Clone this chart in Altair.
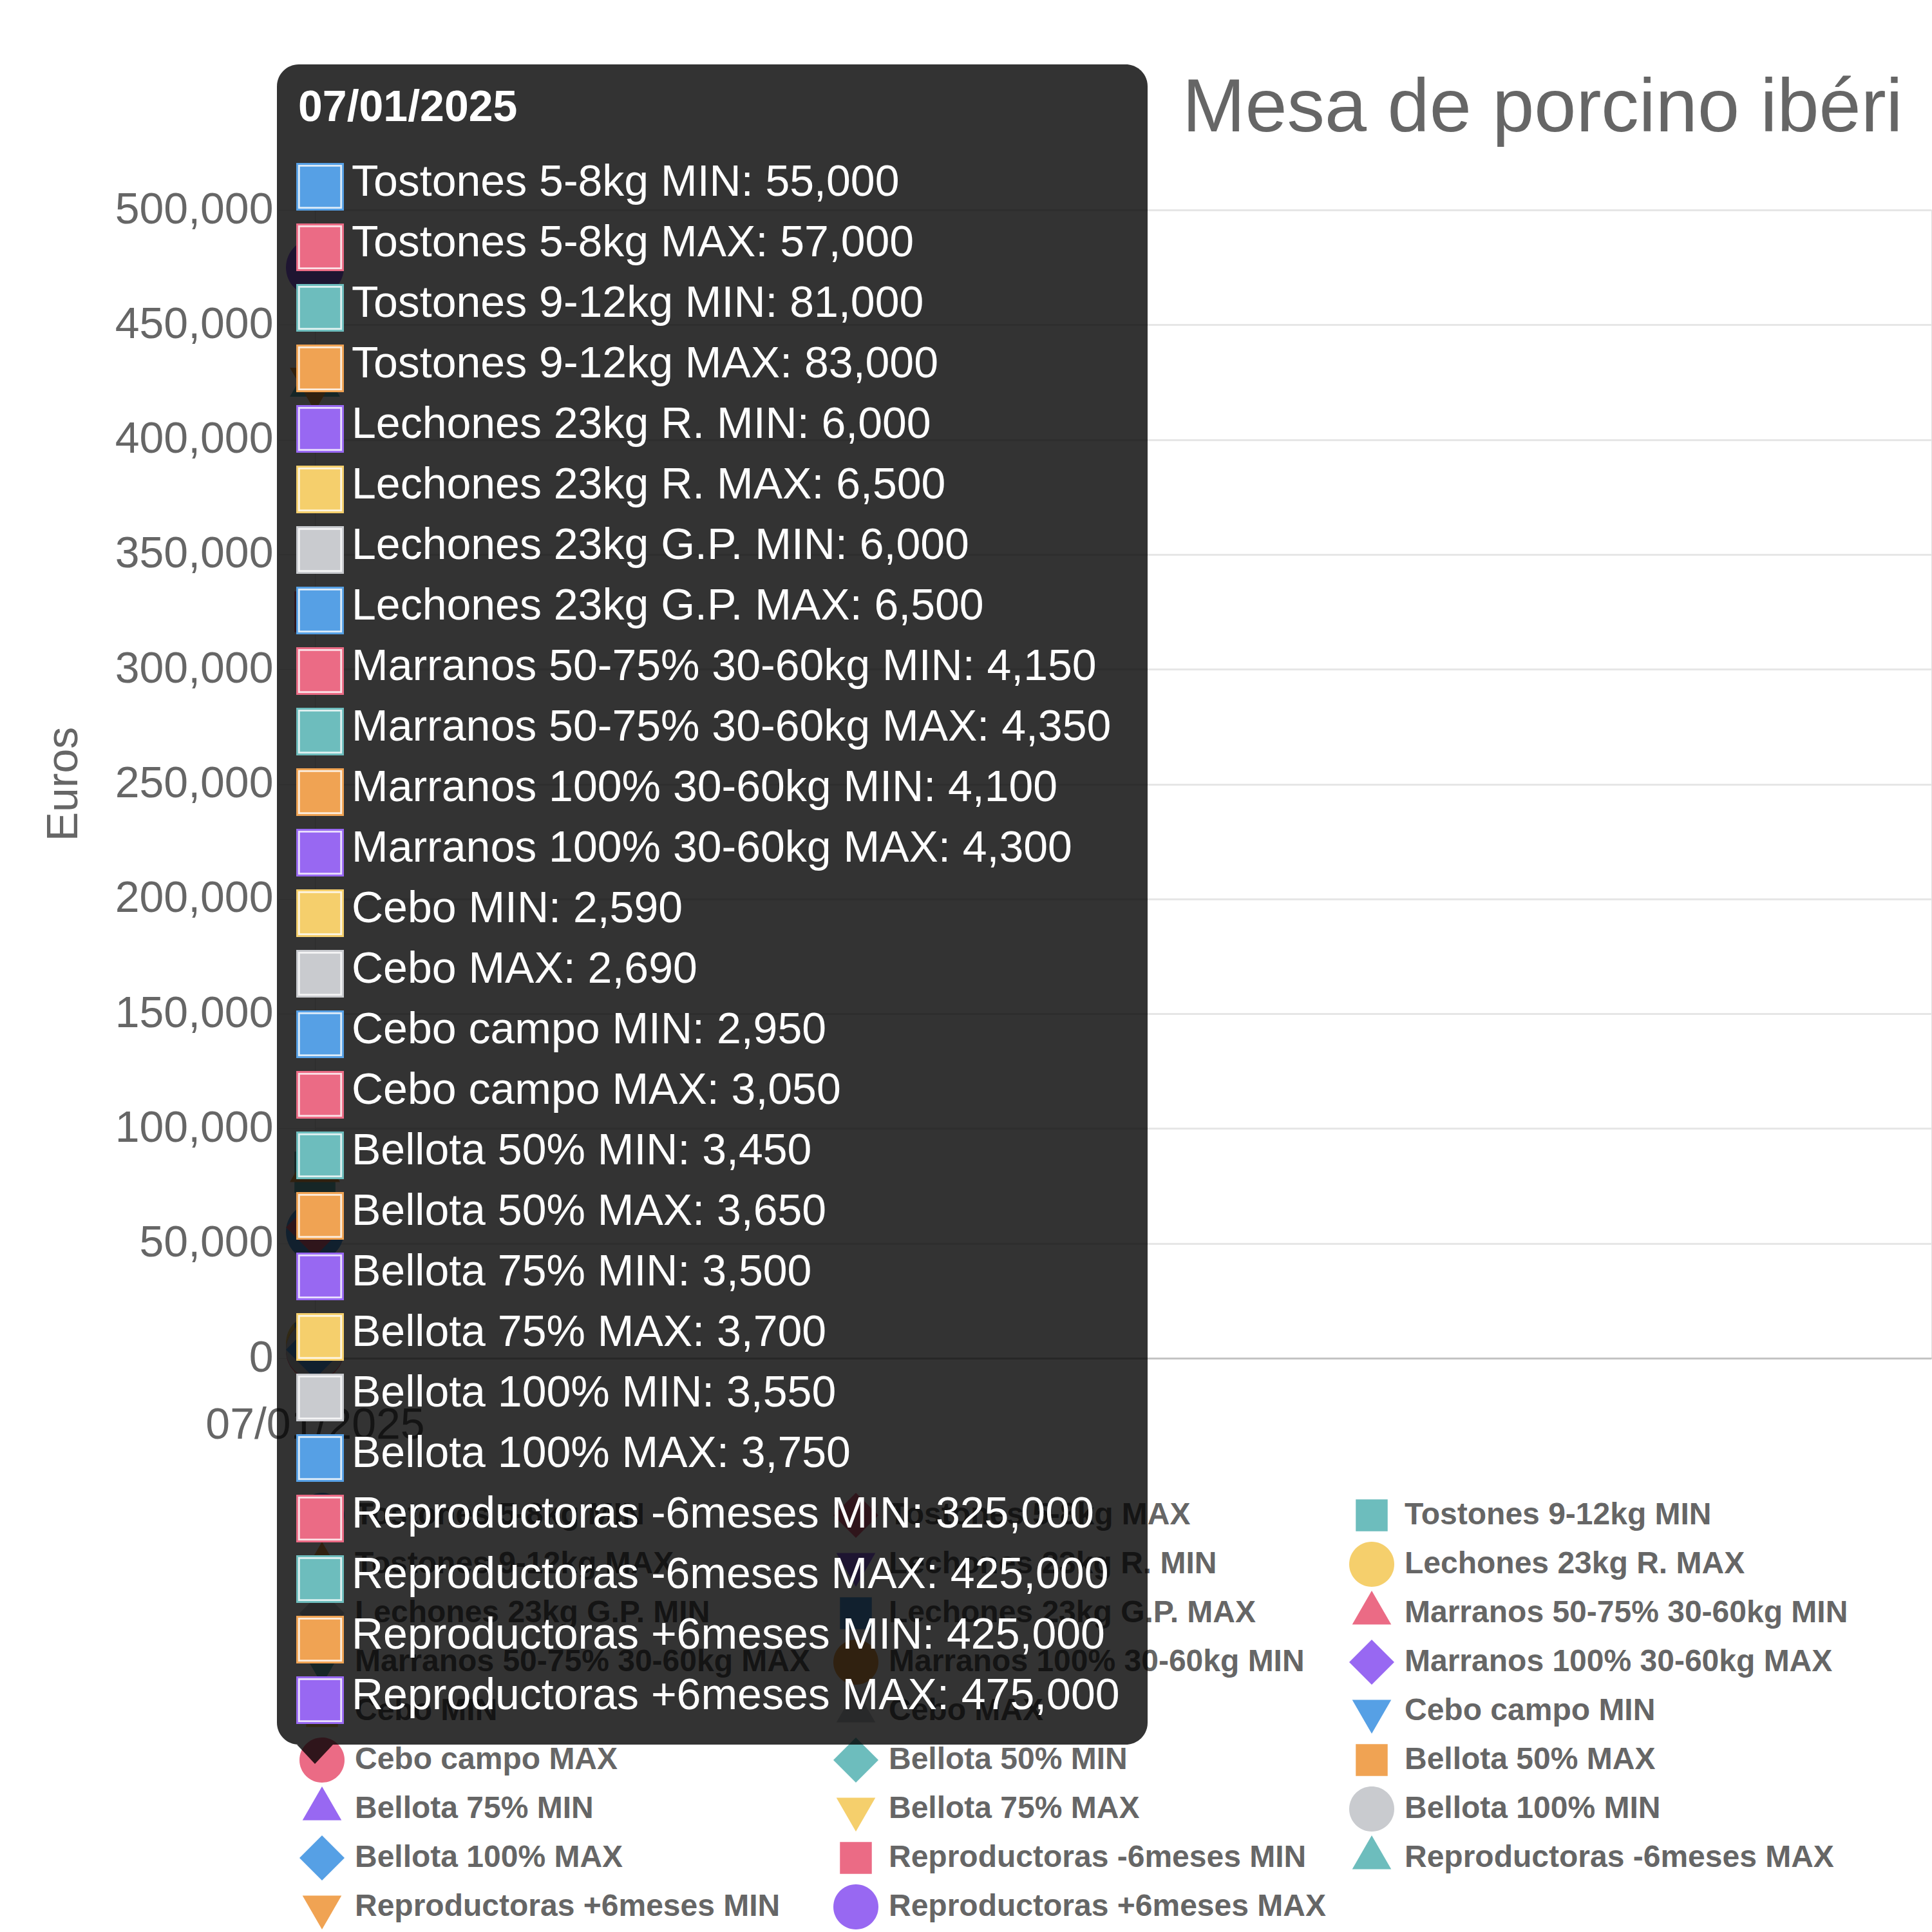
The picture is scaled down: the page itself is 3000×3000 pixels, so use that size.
import altair as alt
import pandas as pd

# ---------------- data ----------------
fechas = ["07/01/2025"]
series = [
    "Tostones 5-8kg MIN", "Tostones 5-8kg MAX",
    "Tostones 9-12kg MIN", "Tostones 9-12kg MAX",
    "Lechones 23kg R. MIN", "Lechones 23kg R. MAX",
    "Lechones 23kg G.P. MIN", "Lechones 23kg G.P. MAX",
    "Marranos 50-75% 30-60kg MIN", "Marranos 50-75% 30-60kg MAX",
    "Marranos 100% 30-60kg MIN", "Marranos 100% 30-60kg MAX",
    "Cebo MIN", "Cebo MAX",
    "Cebo campo MIN", "Cebo campo MAX",
    "Bellota 50% MIN", "Bellota 50% MAX",
    "Bellota 75% MIN", "Bellota 75% MAX",
    "Bellota 100% MIN", "Bellota 100% MAX",
    "Reproductoras -6meses MIN", "Reproductoras -6meses MAX",
    "Reproductoras +6meses MIN", "Reproductoras +6meses MAX",
]
valores = [55000, 57000, 81000, 83000, 6000, 6500, 6000, 6500,
           4150, 4350, 4100, 4300, 2590, 2690, 2950, 3050,
           3450, 3650, 3500, 3700, 3550, 3750,
           325000, 425000, 425000, 475000]
y_ticks = [0, 50000, 100000, 150000, 200000, 250000,
           300000, 350000, 400000, 450000, 500000]
titulo = "Mesa de porcino ibérico"
eje_y = "Euros"

# ---------------- styles ----------------
paleta = ["#56A0E5", "#EB6B85", "#6DBDBD", "#F0A353", "#9868F2", "#F5CF6C", "#C9CBCF"]
formas_base = [
    "M-1,0A1,1,0,1,1,1,0A1,1,0,1,1,-1,0Z",                       # circle
    "M-1,0L0,-1L1,0L0,1Z",                                        # rotated square
    "M-0.707,-0.707L0.707,-0.707L0.707,0.707L-0.707,0.707Z",      # square
    "M-0.866,0.5L0.866,0.5L0,-1Z",                                # triangle
    "M-0.866,-0.5L0.866,-0.5L0,1Z",                               # triangle down
]
colores = [paleta[i % len(paleta)] for i in range(len(series))]
formas = [formas_base[i % len(formas_base)] for i in range(len(series))]

FONT = "Liberation Sans"
GRAY = "#666666"

df = pd.DataFrame({"fecha": [fechas[0]] * len(series), "serie": series, "valor": valores})
una = pd.DataFrame({"fecha": fechas})
tit_df = pd.DataFrame({"titulo": [titulo]})

color_scale = alt.Scale(domain=series, range=colores)
shape_scale = alt.Scale(domain=series, range=formas)

x_enc = alt.X(
    "fecha:O",
    scale=alt.Scale(type="point", padding=0, align=0),
    axis=alt.Axis(title=None, labelAngle=0, labelFontSize=68, labelColor=GRAY,
                  labelFont=FONT, ticks=True, tickSize=57, tickColor="#e5e5e5",
                  labelPadding=13, domain=False, grid=False, labelLimit=600),
)

y_axis = alt.Axis(
    values=y_ticks, format=",d", title=eje_y,
    labelFontSize=68, labelColor=GRAY, labelFont=FONT, labelLimit=600,
    ticks=True, tickSize=57, tickColor="#e5e5e5", labelPadding=8,
    domain=False, grid=True, gridWidth=3,
    gridColor={"condition": {"test": "datum.value === 0", "value": "#c4c4c4"}, "value": "#e6e6e6"},
    titleFont=FONT, titleFontSize=68, titleFontWeight="normal", titleColor=GRAY,
    titleX=-370, titleY=891, titleBaseline="alphabetic", titleAlign="center",
)

base = alt.Chart(df)

puntos = base.mark_point(filled=True, opacity=1, size=8100, strokeWidth=0).encode(
    x=x_enc,
    y=alt.Y("valor:Q", scale=alt.Scale(domain=[0, 500000], nice=False), axis=y_axis),
    color=alt.Color("serie:N", scale=color_scale, legend=None),
    shape=alt.Shape("serie:N", scale=shape_scale, legend=None),
)

# tooltip overlay
caja_tt = alt.Chart(una).mark_rect(color="#000000", opacity=0.8, cornerRadius=34).encode(
    x=alt.value(-59), x2=alt.value(1293), y=alt.value(-226), y2=alt.value(2383)
)
caret = alt.Chart(una).mark_point(
    filled=True, color="#000000", opacity=0.8, shape="M-1,0L1,0L0,1.07Z",
    size=3136, strokeWidth=0
).encode(x=x_enc, y=alt.value(2383))

fecha_tt = alt.Chart(una).mark_text(
    align="left", baseline="middle", font=FONT, fontSize=68, fontWeight="bold", color="white"
).encode(x=alt.value(-26), y=alt.value(-158), text="fecha:N")

filas = base.transform_calculate(etiqueta="datum.serie + ': ' + format(datum.valor, ',')")

cuadros = base.mark_point(shape="square", filled=True, size=5476, opacity=1, strokeWidth=0).encode(
    x=alt.value(8),
    y=alt.Y("serie:N", scale=alt.Scale(type="point", domain=series, range=[-36, 2314], padding=0), axis=None),
    color=alt.Color("serie:N", scale=color_scale, legend=None),
)
cuadros_borde = base.mark_point(shape="square", filled=False, size=4277, color="white",
                                strokeWidth=2.8, opacity=0.8).encode(
    x=alt.value(8),
    y=alt.Y("serie:N", scale=alt.Scale(type="point", domain=series, range=[-36, 2314], padding=0), axis=None),
)
textos = filas.mark_text(align="left", baseline="middle", font=FONT, fontSize=68, color="white").encode(
    x=alt.value(57),
    y=alt.Y("serie:N", scale=alt.Scale(type="point", domain=series, range=[-42, 2308], padding=0), axis=None),
    text="etiqueta:N",
)

# title runs past the right edge of the page in the reference: cut it at the edge
titulo_txt = alt.Chart(tit_df).mark_text(
    align="left", baseline="alphabetic", font=FONT, fontSize=117, color=GRAY,
    limit=1150, ellipsis="\u200b"
).encode(x=alt.value(1347), y=alt.value(-122), text="titulo:N")

principal = alt.layer(
    puntos, caja_tt, caret, fecha_tt, cuadros, cuadros_borde, textos, titulo_txt
).resolve_scale(y="independent").properties(width=2510, height=1783)

leyenda_def = alt.Legend(
    title=None, orient="none", legendX=-23, legendY=1992, direction="horizontal",
    columns=3, gridAlign="none", columnPadding=36, rowPadding=6,
    symbolSize=4900, symbolStrokeWidth=0, symbolOpacity=1,
    labelFont=FONT, labelFontSize=48,
    labelFontWeight="bold", labelColor=GRAY, labelOffset=16, labelLimit=3000, padding=0,
)
leyenda = alt.Chart(df).mark_point(filled=True, size=10, strokeWidth=0, opacity=0).encode(
    x=alt.value(0), y=alt.value(0),
    color=alt.Color("serie:N", scale=color_scale, legend=leyenda_def),
    shape=alt.Shape("serie:N", scale=shape_scale, legend=leyenda_def),
).properties(width=1, height=1)

chart = alt.hconcat(leyenda, principal, spacing=0, bounds="flush").resolve_scale(
    color="independent", shape="independent"
).properties(
    padding={"left": 64, "top": 99, "right": 0, "bottom": 0},
    autosize=alt.AutoSizeParams(type="pad"),
).configure_view(stroke=None).configure(background="white")

chart.save("out.html", embed_options={"renderer": "svg", "actions": False})
